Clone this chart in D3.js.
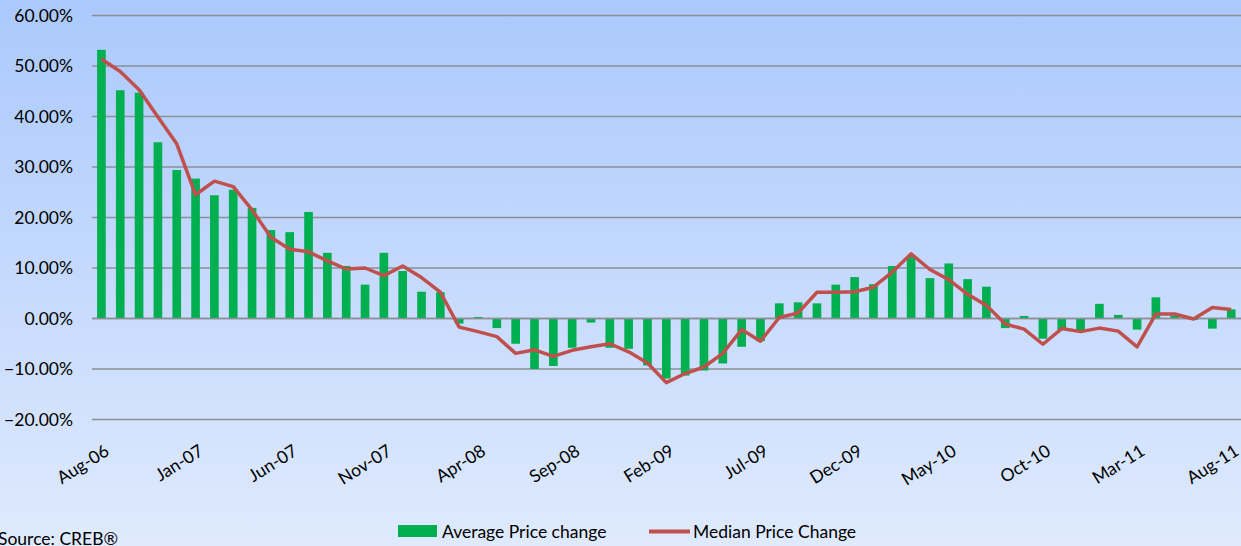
<!DOCTYPE html>
<meta charset="utf-8">
<style>
  html, body { margin: 0; padding: 0; overflow: hidden; }
  body { width: 1241px; height: 546px; }
  text { font-family: Lato, "Open Sans", sans-serif; fill: #000; }
</style>
<body>
<div class="chart"></div>

<script src="https://d3js.org/d3.v7.min.js"></script>
<script>

// months Aug-06 .. Aug-11
var months = ["Aug-06","Sep-06","Oct-06","Nov-06","Dec-06","Jan-07","Feb-07","Mar-07","Apr-07","May-07","Jun-07","Jul-07",
  "Aug-07","Sep-07","Oct-07","Nov-07","Dec-07","Jan-08","Feb-08","Mar-08","Apr-08","May-08","Jun-08","Jul-08",
  "Aug-08","Sep-08","Oct-08","Nov-08","Dec-08","Jan-09","Feb-09","Mar-09","Apr-09","May-09","Jun-09","Jul-09",
  "Aug-09","Sep-09","Oct-09","Nov-09","Dec-09","Jan-10","Feb-10","Mar-10","Apr-10","May-10","Jun-10","Jul-10",
  "Aug-10","Sep-10","Oct-10","Nov-10","Dec-10","Jan-11","Feb-11","Mar-11","Apr-11","May-11","Jun-11","Jul-11","Aug-11"];

// average price change (%)
var avgChange = [53.2, 45.2, 44.7, 34.9, 29.4, 27.7, 24.4, 25.5, 21.9, 17.5, 17.1, 21.1,
  13.0, 10.4, 6.7, 13.0, 9.4, 5.3, 5.2, -1.0, 0.3, -1.9, -5.0, -10.0,
  -9.4, -5.8, -0.8, -5.8, -6.0, -9.3, -11.9, -11.3, -10.3, -8.9, -5.6, -4.5,
  3.0, 3.2, 3.0, 6.7, 8.2, 6.8, 10.4, 12.2, 8.0, 10.9, 7.8, 6.3,
  -1.9, 0.5, -4.0, -2.3, -2.3, 2.9, 0.7, -2.2, 4.2, 0.6, -0.3, -2.0, 1.8];

// median price change (%)
var medChange = [51.4, 48.9, 45.3, 39.9, 34.6, 24.5, 27.2, 26.1, 21.5, 16.1, 13.7, 13.2,
  11.4, 9.8, 10.0, 8.5, 10.4, 8.1, 5.2, -1.7, -2.6, -3.6, -6.9, -6.2,
  -7.5, -6.3, -5.6, -5.0, -6.6, -8.8, -12.7, -10.9, -9.6, -6.9, -2.2, -4.5,
  0.2, 1.1, 5.2, 5.2, 5.3, 6.2, 9.2, 12.8, 9.7, 7.7, 4.8, 2.6,
  -1.1, -2.1, -5.1, -2.0, -2.6, -1.9, -2.5, -5.6, 0.9, 0.9, -0.1, 2.2, 1.8];

var yTicks = [60, 50, 40, 30, 20, 10, 0, -10, -20];

var W = 1241, H = 546;
var margin = {top: 15, right: 0, bottom: 127, left: 92};

var svg = d3.select(".chart").append("svg")
    .attr("width", W)
    .attr("height", H);

// background gradient
var grad = svg.append("defs").append("linearGradient")
    .attr("id", "bg").attr("x1", 0).attr("y1", 0).attr("x2", 0).attr("y2", 1);
grad.append("stop").attr("offset", "0%").attr("stop-color", "#abc9fd");
grad.append("stop").attr("offset", "100%").attr("stop-color", "#dfeafd");
svg.append("rect").attr("width", W).attr("height", H).attr("fill", "url(#bg)");

var x = d3.scaleBand()
    .domain(months)
    .range([margin.left, margin.left + 61 * 18.83])
    .paddingInner(0.54)
    .paddingOuter(0.27);

var y = d3.scaleLinear()
    .domain([-20, 60])
    .range([419.5, 15.5]);

// gridlines
svg.append("g").selectAll("line")
    .data(yTicks)
  .enter().append("line")
    .attr("x1", margin.left)
    .attr("x2", W)
    .attr("y1", function(d) { return y(d); })
    .attr("y2", function(d) { return y(d); })
    .style("stroke", "#8b8f96")
    .style("stroke-width", "1.5px");

// y axis labels
svg.append("g").selectAll("text")
    .data(yTicks)
  .enter().append("text")
    .attr("x", 73)
    .attr("y", function(d) { return y(d); })
    .attr("dy", "0.35em")
    .style("text-anchor", "end")
    .style("font-size", "17.5px")
    .text(function(d) { return d3.format(".2f")(d) + "%"; });

// bars
svg.append("g").selectAll("rect")
    .data(avgChange)
  .enter().append("rect")
    .attr("x", function(d, i) { return x(months[i]); })
    .attr("width", x.bandwidth())
    .attr("y", function(d) { return y(Math.max(0, d)); })
    .attr("height", function(d) { return Math.abs(y(d) - y(0)); })
    .style("fill", "#00b050");

// zero line redrawn over bars
svg.append("line")
    .attr("x1", margin.left).attr("x2", W)
    .attr("y1", y(0)).attr("y2", y(0))
    .style("stroke", "#8b8f96")
    .style("stroke-width", "1.5px");

// median line
var line = d3.line()
    .x(function(d, i) { return x(months[i]) + x.bandwidth() / 2; })
    .y(function(d) { return y(d); });

svg.append("path")
    .datum(medChange)
    .attr("d", line)
    .style("fill", "none")
    .style("stroke", "#c0504d")
    .style("stroke-width", "3.5px")
    .style("stroke-linejoin", "round");

// x labels, every 5th month
svg.append("g").selectAll("text")
    .data(months.filter(function(d, i) { return i % 5 === 0; }))
  .enter().append("text")
    .attr("transform", function(d) {
      return "translate(" + (x(d) + x.bandwidth() / 2 + 2) + ",443) rotate(-32)";
    })
    .attr("dy", "0.75em")
    .style("text-anchor", "end")
    .style("font-size", "17.5px")
    .text(function(d) { return d; });

// legend
svg.append("rect")
    .attr("x", 398).attr("y", 525)
    .attr("width", 39).attr("height", 12)
    .style("fill", "#00b050");
svg.append("text")
    .attr("x", 442).attr("y", 538)
    .style("font-size", "17.5px")
    .text("Average Price change");

svg.append("line")
    .attr("x1", 649).attr("x2", 690)
    .attr("y1", 531.5).attr("y2", 531.5)
    .style("stroke", "#c0504d")
    .style("stroke-width", "4px");
svg.append("text")
    .attr("x", 693).attr("y", 538)
    .style("font-size", "17.5px")
    .text("Median Price Change");

// source note
svg.append("text")
    .attr("x", -2).attr("y", 545)
    .style("font-size", "17.5px")
    .text("Source: CREB®");

</script>
</body>
